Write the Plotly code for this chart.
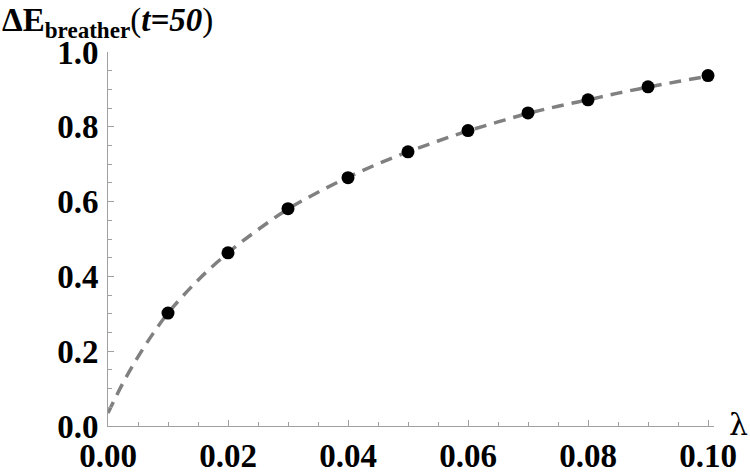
import plotly.graph_objects as go

# Data points (lambda, Delta E)
lam_pts = [0.01, 0.02, 0.03, 0.04, 0.05, 0.06, 0.07, 0.08, 0.09, 0.10]
dE_pts = [0.302, 0.463, 0.581, 0.664, 0.733, 0.790, 0.837, 0.872, 0.907, 0.937]

# Dashed fit curve
lam_fit = [0.0, 0.0025, 0.005, 0.0075, 0.01, 0.015, 0.02, 0.025, 0.03, 0.035, 0.04,
           0.045, 0.05, 0.055, 0.06, 0.065, 0.07, 0.075, 0.08, 0.085, 0.09, 0.095, 0.10]
dE_fit = [0.035, 0.115, 0.185, 0.247, 0.302, 0.390, 0.463, 0.525, 0.580, 0.625, 0.665,
          0.701, 0.733, 0.762, 0.789, 0.813, 0.836, 0.855, 0.872, 0.890, 0.906, 0.921, 0.935]

x_ticks = [0.00, 0.02, 0.04, 0.06, 0.08, 0.10]
x_ticklabels = ["0.00", "0.02", "0.04", "0.06", "0.08", "0.10"]
y_ticks = [0.0, 0.2, 0.4, 0.6, 0.8, 1.0]
y_ticklabels = ["0.0", "0.2", "0.4", "0.6", "0.8", "1.0"]

FONT = "Liberation Serif, Times New Roman, serif"
AXC = "#a0a0a0"

fig = go.Figure()
fig.add_trace(go.Scatter(x=lam_fit, y=dE_fit, mode="lines", line_shape="spline",
                         line=dict(color="#808080", width=3.5, dash="12px,8px"),
                         showlegend=False, hoverinfo="skip"))
fig.add_trace(go.Scatter(x=lam_pts, y=dE_pts, mode="markers",
                         marker=dict(color="black", size=13),
                         cliponaxis=False, showlegend=False))

L, R, T, B = 108, 36, 52, 49
fig.update_layout(
    width=750, height=475,
    margin=dict(l=L, r=R, t=T, b=B, autoexpand=False),
    paper_bgcolor="white", plot_bgcolor="white",
    font=dict(family=FONT, color="black"),
    xaxis=dict(range=[0, 0.101], showgrid=False, zeroline=False, automargin=False,
               showline=True, linecolor=AXC, linewidth=1,
               tickmode="array", tickvals=x_ticks, ticktext=x_ticklabels,
               ticks="inside", ticklen=6, tickcolor=AXC, ticklabelstandoff=0,
               minor=dict(dtick=0.005, ticks="inside", ticklen=4, tickcolor=AXC),
               tickfont=dict(family=FONT, size=33, color="black", weight="bold")),
    yaxis=dict(range=[0, 1.0], showgrid=False, zeroline=False, automargin=False,
               showline=True, linecolor=AXC, linewidth=1,
               tickmode="array", tickvals=y_ticks, ticktext=y_ticklabels,
               ticks="inside", ticklen=6, tickcolor=AXC, ticklabelstandoff=2,
               minor=dict(dtick=0.05, ticks="inside", ticklen=4, tickcolor=AXC),
               tickfont=dict(family=FONT, size=33, color="black", weight="bold")),
)

pw = 750 - L - R
ph = 475 - T - B
fig.add_annotation(xref="paper", yref="paper", x=-L / pw, y=1 + T / ph,
                   xanchor="left", yanchor="top", showarrow=False,
                   text="<b>ΔE<sub>breather</sub></b>(<b><i>t=50</i></b>)",
                   font=dict(family=FONT, size=33, color="black"))
fig.add_annotation(xref="paper", yref="paper", x=(738 - L) / pw, y=2 / ph,
                   xanchor="center", yanchor="middle", showarrow=False,
                   text="λ",
                   font=dict(family="DejaVu Serif, serif", size=30, color="black"))

fig.write_html("out.html")
